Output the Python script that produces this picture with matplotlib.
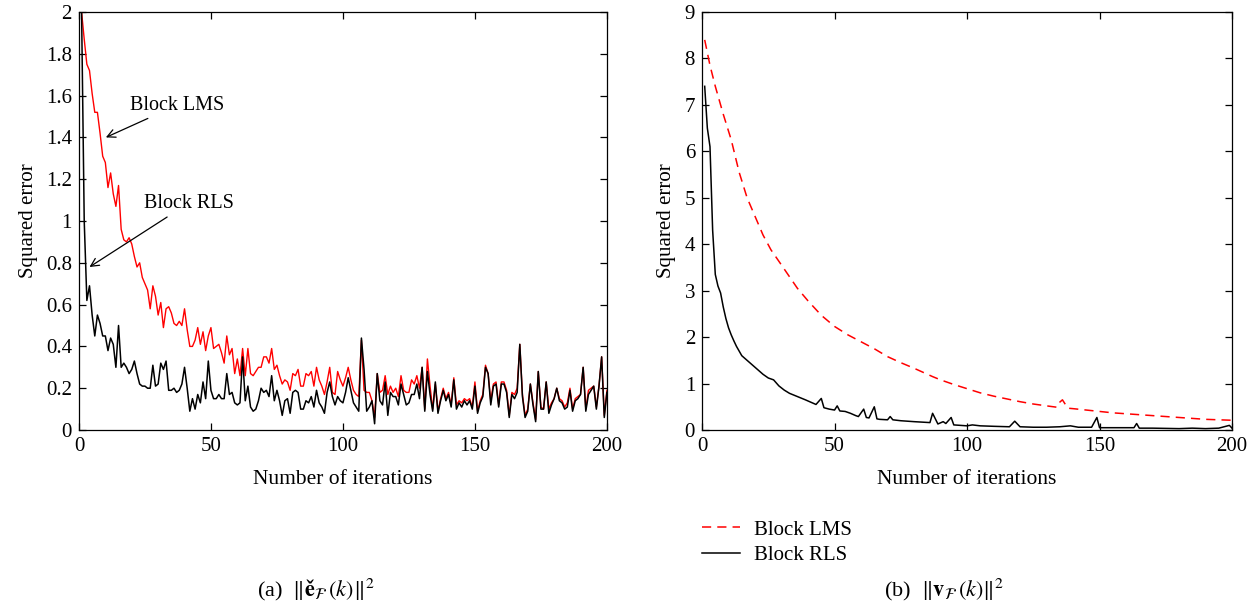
import matplotlib
matplotlib.use("Agg")
import matplotlib.pyplot as plt
from matplotlib.ticker import FuncFormatter

plt.rcParams['font.family'] = ['Liberation Serif', 'DejaVu Serif']
plt.rcParams['mathtext.fontset'] = 'stix'

# ---- (a) squared error of e_F(k), one value per iteration k = 1..200
iters = list(range(1, 201))

lms_a = [2.00, 1.87, 1.75, 1.72, 1.61, 1.52, 1.52, 1.42, 1.31, 1.28,
         1.16, 1.23, 1.13, 1.07, 1.17, 0.96, 0.91, 0.90, 0.92, 0.89,
         0.83, 0.78, 0.80, 0.73, 0.70, 0.67, 0.58, 0.69, 0.64, 0.55,
         0.61, 0.49, 0.58, 0.59, 0.56, 0.51, 0.50, 0.52, 0.50, 0.58,
         0.48, 0.40, 0.40, 0.43, 0.49, 0.41, 0.47, 0.38, 0.45, 0.49,
         0.39, 0.40, 0.41, 0.37, 0.32, 0.45, 0.36, 0.39, 0.27, 0.34,
         0.26, 0.39, 0.26, 0.39, 0.27, 0.26, 0.28, 0.30, 0.30, 0.35,
         0.35, 0.32, 0.39, 0.29, 0.31, 0.26, 0.22, 0.24, 0.23, 0.19,
         0.27, 0.26, 0.29, 0.21, 0.21, 0.27, 0.26, 0.28, 0.21, 0.30,
         0.24, 0.21, 0.17, 0.23, 0.30, 0.18, 0.17, 0.28, 0.24, 0.21,
         0.25, 0.30, 0.24, 0.19, 0.17, 0.16, 0.43, 0.19, 0.18, 0.18,
         0.14, 0.06, 0.27, 0.18, 0.19, 0.26, 0.17, 0.21, 0.18, 0.20,
         0.16, 0.26, 0.19, 0.18, 0.18, 0.24, 0.22, 0.26, 0.20, 0.30,
         0.10, 0.34, 0.21, 0.10, 0.22, 0.09, 0.15, 0.20, 0.15, 0.18,
         0.12, 0.25, 0.12, 0.14, 0.13, 0.15, 0.14, 0.15, 0.11, 0.23,
         0.09, 0.14, 0.17, 0.31, 0.27, 0.14, 0.22, 0.23, 0.12, 0.23,
         0.23, 0.19, 0.07, 0.18, 0.17, 0.20, 0.41, 0.17, 0.07, 0.10,
         0.22, 0.13, 0.05, 0.28, 0.11, 0.10, 0.23, 0.10, 0.13, 0.15,
         0.20, 0.15, 0.14, 0.11, 0.13, 0.20, 0.10, 0.15, 0.16, 0.17,
         0.30, 0.10, 0.19, 0.20, 0.21, 0.11, 0.21, 0.35, 0.07, 0.19]

rls_a = [2.00, 1.00, 0.62, 0.69, 0.55, 0.45, 0.55, 0.51, 0.45, 0.45,
         0.38, 0.44, 0.41, 0.30, 0.50, 0.30, 0.32, 0.30, 0.27, 0.29,
         0.33, 0.27, 0.22, 0.21, 0.21, 0.20, 0.20, 0.31, 0.21, 0.22,
         0.32, 0.29, 0.33, 0.19, 0.19, 0.20, 0.18, 0.19, 0.22, 0.30,
         0.20, 0.09, 0.15, 0.10, 0.17, 0.13, 0.23, 0.15, 0.33, 0.19,
         0.15, 0.15, 0.17, 0.15, 0.15, 0.27, 0.17, 0.18, 0.13, 0.12,
         0.13, 0.35, 0.14, 0.21, 0.11, 0.09, 0.10, 0.14, 0.20, 0.18,
         0.19, 0.16, 0.26, 0.14, 0.19, 0.14, 0.07, 0.14, 0.15, 0.08,
         0.18, 0.19, 0.18, 0.10, 0.10, 0.14, 0.13, 0.16, 0.11, 0.19,
         0.13, 0.11, 0.08, 0.18, 0.23, 0.16, 0.12, 0.16, 0.14, 0.13,
         0.18, 0.25, 0.19, 0.13, 0.11, 0.09, 0.44, 0.29, 0.09, 0.11,
         0.14, 0.03, 0.27, 0.14, 0.12, 0.23, 0.07, 0.18, 0.16, 0.16,
         0.12, 0.22, 0.17, 0.12, 0.13, 0.17, 0.17, 0.22, 0.15, 0.30,
         0.09, 0.28, 0.17, 0.09, 0.23, 0.08, 0.14, 0.19, 0.14, 0.17,
         0.11, 0.24, 0.10, 0.13, 0.11, 0.14, 0.12, 0.14, 0.10, 0.21,
         0.08, 0.13, 0.16, 0.30, 0.27, 0.12, 0.21, 0.22, 0.11, 0.22,
         0.22, 0.18, 0.06, 0.17, 0.15, 0.18, 0.41, 0.16, 0.06, 0.09,
         0.22, 0.12, 0.04, 0.28, 0.10, 0.10, 0.23, 0.08, 0.12, 0.15,
         0.20, 0.14, 0.13, 0.10, 0.11, 0.19, 0.09, 0.14, 0.15, 0.17,
         0.30, 0.09, 0.17, 0.19, 0.21, 0.10, 0.21, 0.35, 0.06, 0.18]

# ---- (b) squared error of v_F(k), read at selected iterations
lms_b_k = [1, 3, 5, 8, 11, 14, 17, 20, 23, 26, 30, 33, 36, 40, 45, 50,
           55, 60, 65, 70, 75, 80, 87, 90, 95, 100, 105, 110, 115, 120,
           125, 130, 134, 135, 136, 137, 138, 140, 145, 150, 155, 160,
           170, 180, 190, 200]
lms_b = [8.4, 7.85, 7.4, 6.8, 6.25, 5.55, 5.0, 4.6, 4.2, 3.88, 3.55, 3.3,
         3.05, 2.78, 2.47, 2.23, 2.05, 1.9, 1.75, 1.58, 1.45, 1.33, 1.15,
         1.08, 0.98, 0.89, 0.80, 0.73, 0.67, 0.61, 0.56, 0.52, 0.49, 0.60,
         0.65, 0.56, 0.47, 0.46, 0.43, 0.40, 0.37, 0.35, 0.31, 0.27, 0.23,
         0.21]

rls_b_k = [1, 2, 3, 4, 5, 6, 7, 8, 9, 10, 11, 12, 13, 14, 15, 17, 19, 21,
           23, 25, 27, 29, 31, 33, 36, 39, 43, 45, 46, 48, 50, 51, 52, 54,
           56, 58, 59, 61, 62, 63, 65, 66, 67, 70, 71, 72, 75, 80, 86, 87,
           89, 91, 92, 94, 95, 100, 102, 105, 110, 116, 118, 120, 125, 130,
           135, 139, 142, 147, 149, 150, 155, 163, 164, 165, 170, 180, 185,
           190, 195, 199, 200]
rls_b = [7.4, 6.5, 6.1, 4.3, 3.35, 3.1, 2.95, 2.65, 2.4, 2.2, 2.05, 1.92,
         1.8, 1.7, 1.6, 1.5, 1.4, 1.3, 1.2, 1.12, 1.08, 0.95, 0.86, 0.79,
         0.72, 0.65, 0.55, 0.68, 0.48, 0.45, 0.43, 0.52, 0.41, 0.40, 0.36,
         0.31, 0.29, 0.45, 0.27, 0.26, 0.50, 0.24, 0.23, 0.22, 0.29, 0.22,
         0.20, 0.18, 0.16, 0.36, 0.13, 0.18, 0.14, 0.27, 0.11, 0.09, 0.11,
         0.09, 0.08, 0.07, 0.19, 0.07, 0.06, 0.06, 0.07, 0.09, 0.06, 0.06,
         0.27, 0.05, 0.05, 0.05, 0.14, 0.04, 0.04, 0.03, 0.04, 0.03, 0.04,
         0.10, 0.04]

fs = 15
fig = plt.figure(figsize=(12.55, 6.06), dpi=100)
ax1 = fig.add_axes([0.0629, 0.2904, 0.4207, 0.6898])
ax2 = fig.add_axes([0.5594, 0.2904, 0.4223, 0.6898])

ax1.plot(iters, lms_a, color='#ff0000', lw=1.0)
ax1.plot(iters, rls_a, color='black', lw=1.1)
ax1.set_xlim(0, 200)
ax1.set_ylim(0, 2)
ax1.set_yticks([i * 0.2 for i in range(11)])
ax1.yaxis.set_major_formatter(FuncFormatter(lambda v, p: '%g' % round(v, 1)))

ax1.annotate('Block LMS', xy=(10.2, 1.40), xytext=(19.5, 1.555),
             fontsize=14.5, va='center', ha='left',
             arrowprops=dict(arrowstyle='->', color='black', lw=0.9,
                             shrinkA=2, shrinkB=0))
ax1.annotate('Block RLS', xy=(4.0, 0.78), xytext=(24.5, 1.085),
             fontsize=14.5, va='center', ha='left',
             arrowprops=dict(arrowstyle='->', color='black', lw=0.9,
                             shrinkA=2, shrinkB=0))

ax2.plot(lms_b_k, lms_b, color='#ff0000', lw=1.1, dashes=(6, 4),
         label='Block LMS')
ax2.plot(rls_b_k, rls_b, color='black', lw=1.1, label='Block RLS')
ax2.set_xlim(0, 200)
ax2.set_ylim(0, 9)
ax2.set_yticks(range(10))

for ax in (ax1, ax2):
    ax.set_xticks([0, 50, 100, 150, 200])
    ax.tick_params(direction='in', top=True, right=True, length=5,
                   width=0.9, labelsize=fs, pad=5)
    ax.set_xlabel('Number of iterations', fontsize=fs + 0.5, labelpad=10)
    ax.set_ylabel('Squared error', fontsize=fs, labelpad=6)
    for s in ax.spines.values():
        s.set_linewidth(0.9)

ax2.legend(loc='upper left', bbox_to_anchor=(0.5595, 0.142),
           bbox_transform=fig.transFigure, frameon=False, fontsize=fs,
           handlelength=1.8, handletextpad=0.7, labelspacing=0.3,
           borderpad=0, borderaxespad=0)

fig.text(0.252, 0.016, '(a)  $\\Vert\\mathbf{\u011b}_{\\mathcal{F}}\\,(k)\\Vert^2$',
         fontsize=16, ha='center', va='baseline')
fig.text(0.752, 0.016, r'(b)  $\Vert\mathbf{v}_{\mathcal{F}}\,(k)\Vert^2$',
         fontsize=16, ha='center', va='baseline')

fig.savefig('out.png', dpi=100)
